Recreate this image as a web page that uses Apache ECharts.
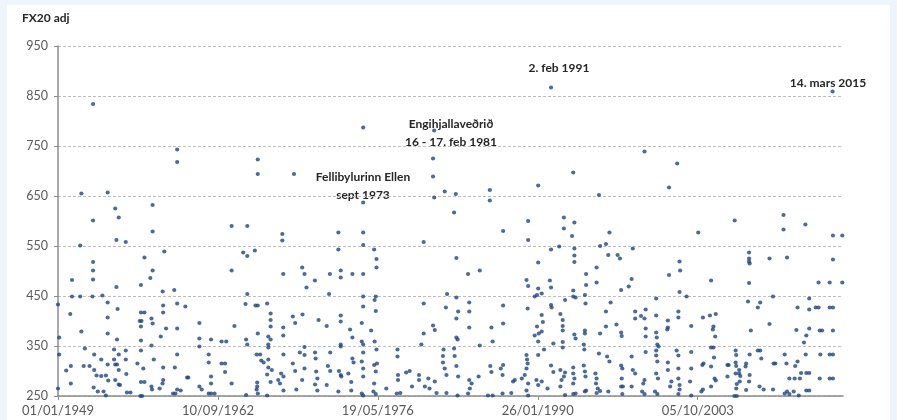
<!DOCTYPE html>
<html>
<head>
<meta charset="utf-8">
<script src="https://cdn.jsdelivr.net/npm/echarts@6/dist/echarts.min.js"></script>
<style>
html,body{margin:0;padding:0;background:#eef5fc;width:897px;height:420px;overflow:hidden;}
#chart{position:absolute;left:7px;top:5px;width:883px;height:415px;background:#ffffff;}
</style>
</head>
<body>
<div id="chart"></div>
<script>
// Data: [decimal year, FX20 adj value]
const gusts1949_1962 = [[1952.0,834],[1959.2,743],[1959.2,718],[1951.0,655],[1953.25,657],[1953.9,625],[1954.2,607],[1952.0,601],[1957.1,632],[1957.1,579],[1954.0,562],[1954.8,558],[1950.9,551],[1958.1,539],[1956.4,527],[1952.0,518],[1952.0,501],[1952.0,483],[1950.2,482],[1957.1,501],[1956.9,486],[1956.1,472],[1954.0,468],[1957.96,459],[1958.95,462],[1950.2,449],[1950.9,449],[1951.95,449],[1952.8,451],[1949.0,433],[1953.25,437],[1958.0,431],[1959.2,435],[1959.9,429],[1954.1,424],[1956.1,417],[1956.4,417],[1950.05,414],[1958.0,417],[1953.25,407],[1956.0,400],[1956.15,400],[1957.0,405],[1956.1,389],[1957.1,395],[1961.1,396],[1951.0,379],[1953.25,375],[1958.25,385],[1959.2,385],[1949.1,367],[1954.05,363],[1956.1,361],[1957.8,369],[1961.1,365],[1962.1,363],[1951.3,345],[1953.8,343],[1954.8,341],[1956.1,341],[1957.0,351],[1961.1,349],[1949.1,333],[1952.1,333],[1954.2,333],[1957.2,323],[1954.8,323],[1959.2,333],[1961.9,333],[1961.9,317],[1952.7,323],[1953.8,323],[1955.8,315],[1950.1,310],[1951.2,310],[1951.7,310],[1953.25,313],[1953.9,313],[1954.05,313],[1956.3,305],[1958.0,307],[1959.0,307],[1949.7,301],[1952.1,302],[1952.3,291],[1952.7,290],[1953.1,291],[1954.2,302],[1954.85,294],[1960.05,287],[1960.15,287],[1953.3,281],[1953.9,282],[1954.2,273],[1954.3,272],[1956.1,278],[1956.4,278],[1958.0,282],[1957.95,275],[1962.1,289],[1962.1,275],[1950.1,275],[1952.05,267],[1952.4,259],[1949.0,265],[1952.9,259],[1957.0,269],[1957.05,263],[1957.7,265],[1959.2,263],[1959.5,261],[1961.1,269],[1961.3,263],[1954.9,257],[1955.2,257],[1953.1,251],[1956.05,250],[1956.2,250],[1958.85,255],[1959.05,255],[1961.9,255],[1962.1,255],[1962.4,255]];

const gusts1962_1976 = [[1975.12,787],[1966.1,723],[1966.1,694],[1969.2,694],[1975.12,637],[1963.86,590],[1965.2,590],[1968.2,574],[1968.2,561],[1973.0,577],[1975.12,577],[1975.12,552],[1973.0,543],[1964.85,537],[1965.2,530],[1965.85,541],[1976.06,543],[1976.26,524],[1976.26,507],[1963.86,501],[1968.28,494],[1969.9,507],[1970.1,494],[1970.99,481],[1970.27,467],[1972.27,494],[1973.2,501],[1973.2,487],[1974.2,494],[1975.12,494],[1972.2,454],[1965.2,454],[1965.05,434],[1965.9,431],[1966.1,431],[1966.9,435],[1975.12,449],[1975.12,429],[1976.2,449],[1976.1,442],[1976.2,420],[1967.2,415],[1967.2,402],[1967.2,389],[1969.1,409],[1969.3,396],[1969.93,413],[1973.2,411],[1973.2,399],[1971.3,402],[1972.0,390],[1975.0,396],[1964.1,390],[1966.1,375],[1967.0,369],[1967.2,363],[1968.28,387],[1968.28,371],[1974.0,383],[1974.2,367],[1975.8,381],[1963.0,359],[1963.4,359],[1965.1,363],[1965.2,353],[1967.0,353],[1967.0,347],[1973.2,353],[1973.2,349],[1975.0,359],[1975.12,353],[1975.12,337],[1976.1,359],[1976.26,343],[1970.1,348],[1966.0,333],[1966.3,333],[1966.4,321],[1966.6,317],[1967.0,323],[1968.3,333],[1969.7,337],[1970.1,332],[1971.0,337],[1971.05,325],[1972.3,337],[1974.2,325],[1974.3,317],[1963.0,315],[1963.3,315],[1963.3,298],[1967.0,307],[1967.3,302],[1968.1,295],[1968.3,289],[1969.1,315],[1969.3,300],[1970.1,305],[1971.1,299],[1971.2,285],[1972.1,310],[1972.3,300],[1973.05,300],[1973.2,292],[1973.25,289],[1973.85,295],[1975.0,319],[1975.12,305],[1975.12,289],[1976.06,312],[1976.2,299],[1963.86,275],[1966.05,277],[1966.05,269],[1966.9,293],[1967.2,278],[1967.85,282],[1968.0,275],[1969.9,282],[1971.0,273],[1972.0,272],[1974.1,278],[1976.06,275],[1965.1,252],[1966.0,263],[1966.1,255],[1966.9,251],[1968.3,261],[1969.4,263],[1971.2,261],[1973.0,259],[1974.1,261],[1975.0,255],[1975.12,251],[1976.0,259],[1976.2,254]];

const gusts1976_1990 = [[1981.2,781],[1981.1,725],[1981.1,689],[1981.2,647],[1982.1,659],[1983.05,654],[1982.9,617],[1985.96,662],[1985.96,641],[1990.1,671],[1989.24,600],[1989.24,562],[1987.1,580],[1980.3,558],[1983.1,526],[1984.1,494],[1985.1,501],[1989.1,482],[1989.24,470],[1990.1,517],[1990.1,465],[1982.3,454],[1983.1,447],[1980.3,435],[1982.2,427],[1983.25,419],[1983.1,405],[1984.2,437],[1984.2,419],[1987.1,431],[1987.1,395],[1989.2,425],[1989.8,449],[1990.0,452],[1984.2,387],[1986.1,387],[1981.1,391],[1981.25,382],[1980.3,375],[1980.1,353],[1983.1,367],[1983.2,363],[1986.2,359],[1985.1,351],[1989.8,371],[1990.1,359],[1978.06,343],[1978.06,329],[1982.0,343],[1981.95,330],[1981.95,317],[1982.9,345],[1982.95,330],[1989.1,332],[1989.15,323],[1989.2,315],[1990.1,332],[1976.3,315],[1978.1,292],[1978.1,282],[1978.8,297],[1979.1,300],[1979.9,292],[1979.9,282],[1980.7,285],[1981.25,279],[1982.1,305],[1982.25,292],[1983.1,310],[1983.25,289],[1984.2,282],[1984.4,275],[1985.0,289],[1986.0,310],[1986.1,298],[1986.9,305],[1987.1,312],[1987.05,292],[1987.95,279],[1988.1,282],[1988.7,285],[1988.95,292],[1989.1,305],[1989.24,275],[1989.95,282],[1990.1,272],[1977.1,265],[1978.0,255],[1978.3,256],[1979.3,269],[1980.4,269],[1980.8,265],[1981.4,256],[1982.25,256],[1983.2,251],[1984.25,265],[1984.1,255],[1985.8,251],[1986.2,251],[1987.05,255],[1987.8,256],[1989.1,261],[1989.24,251]];

const gusts1990_2003 = [[1991.2,867],[1993.1,697],[1999.2,739],[2002.0,715],[2001.3,667],[1995.3,652],[2003.8,577],[1992.3,607],[1992.3,585],[1993.2,597],[1993.0,570],[1996.2,577],[1995.4,550],[1995.9,554],[1991.2,543],[1991.9,549],[1993.2,545],[1993.2,531],[1993.2,518],[1996.1,532],[1996.9,532],[1997.1,525],[1998.2,545],[1995.1,507],[1995.1,477],[1994.2,494],[1994.2,472],[2002.2,519],[2002.25,501],[2001.3,492],[1991.1,481],[1991.2,467],[1997.2,462],[1997.85,469],[1998.1,484],[2002.2,458],[2002.8,449],[1990.4,455],[1992.4,442],[1993.1,461],[1993.1,449],[1993.3,447],[1994.1,452],[1994.15,435],[1991.2,432],[1991.25,427],[1990.4,412],[1992.0,414],[1992.2,402],[1996.3,437],[1995.9,419],[1995.9,389],[1998.4,419],[1998.4,405],[1998.9,410],[1999.2,405],[1999.3,423],[2000.2,445],[2000.2,411],[2001.2,401],[2002.1,419],[2002.1,407],[1996.8,393],[1990.5,398],[1990.0,389],[1990.15,375],[1990.4,379],[1992.2,390],[1992.2,381],[1994.1,381],[1994.1,375],[1993.2,373],[1993.3,365],[1995.4,375],[1997.2,377],[1997.25,370],[1999.3,385],[1999.3,369],[2000.2,377],[2000.25,367],[2001.2,387],[2001.15,383],[2003.2,390],[1991.4,355],[1990.6,343],[1992.2,358],[1992.2,347],[1994.0,353],[1994.05,343],[1995.3,335],[2000.3,353],[2000.4,349],[2000.2,341],[1999.3,338],[2001.95,341],[2002.1,331],[2003.2,338],[1991.2,311],[1991.4,298],[1992.0,302],[1992.4,297],[1992.3,289],[1992.1,282],[1993.1,307],[1993.1,295],[1993.2,285],[1993.1,275],[1994.0,311],[1994.1,299],[1994.15,289],[1995.0,295],[1995.1,285],[1995.05,275],[1995.2,265],[1996.0,329],[1996.2,319],[1997.2,311],[1997.3,305],[1997.25,285],[1997.35,269],[1998.1,329],[1998.2,302],[1998.4,295],[1999.2,282],[1999.1,275],[2000.2,331],[2000.3,319],[2000.2,295],[2000.35,285],[2001.2,317],[2001.2,302],[2001.5,279],[2002.1,305],[2002.1,285],[2002.2,272],[2003.1,279],[2003.2,305],[1990.4,279],[1990.9,265],[1992.0,269],[1992.4,252],[1993.1,254],[1993.3,255],[1994.1,259],[1994.2,261],[1995.1,256],[1995.4,260],[1996.1,259],[1997.2,269],[1997.3,254],[1998.1,269],[1999.0,259],[1999.2,254],[2000.1,259],[2000.3,254],[2001.4,269],[2002.1,254],[2002.2,263],[2003.2,251]];

const gusts2003_2016 = [[2015.3,859],[2006.92,601],[2011.1,612],[2011.1,583],[2012.97,593],[2015.33,571],[2016.13,571],[2008.15,537],[2008.15,525],[2008.15,519],[2008.2,515],[2009.9,525],[2011.4,527],[2015.33,523],[2004.9,481],[2008.15,476],[2014.1,477],[2015.05,477],[2016.13,477],[2008.06,439],[2009.1,437],[2008.9,427],[2010.2,449],[2012.3,427],[2013.3,445],[2013.3,423],[2013.85,427],[2014.1,427],[2015.05,427],[2015.33,427],[2004.2,407],[2004.8,411],[2005.3,414],[2005.1,389],[2005.05,383],[2005.25,369],[2009.9,394],[2008.3,381],[2012.2,382],[2013.3,385],[2013.05,371],[2012.85,357],[2014.2,381],[2014.4,381],[2015.33,381],[2004.9,347],[2005.1,347],[2005.15,327],[2007.0,341],[2007.05,332],[2008.2,333],[2008.9,341],[2009.1,341],[2009.2,325],[2011.2,333],[2012.3,319],[2012.1,310],[2013.0,333],[2014.25,333],[2015.05,333],[2015.33,333],[2004.15,312],[2004.25,315],[2006.3,312],[2006.4,312],[2007.0,317],[2007.05,310],[2007.3,302],[2007.9,315],[2007.85,309],[2008.2,292],[2010.25,315],[2010.4,315],[2011.35,315],[2012.6,296],[2013.05,296],[2013.3,296],[2015.05,285],[2015.33,285],[2014.2,285],[2011.6,285],[2012.05,285],[2012.5,285],[2004.9,309],[2005.2,285],[2005.3,281],[2007.0,295],[2007.3,295],[2007.4,290],[2004.07,259],[2004.2,263],[2004.9,269],[2006.3,289],[2007.1,274],[2007.35,279],[2007.05,265],[2007.1,250],[2006.9,250],[2008.15,279],[2007.9,262],[2009.05,269],[2009.4,263],[2010.2,263],[2011.2,255],[2011.4,259],[2011.6,254],[2011.97,259],[2012.4,251],[2013.05,261],[2013.3,261]];

const yMin = 250, yMax = 950, yStep = 100;
const xMaxYear = 2016.19;
const xStepDays = 5000;
const yAxisTitle = 'FX20 adj';
const annotations = [
  {lines:['2. feb 1991'], x:552, y:54},
  {lines:['14. mars 2015'], x:821, y:69},
  {lines:['Engihjallaveðrið','16 - 17. feb 1981'], x:444, y:110},
  {lines:['Fellibylurinn Ellen','sept 1973'], x:356, y:163}
];

const allGusts = [].concat(gusts1949_1962, gusts1962_1976, gusts1976_1990, gusts1990_2003, gusts2003_2016);
const toDays = y => (y - 1949) * 365.25;
const seriesData = allGusts.map(p => [toDays(p[0]), p[1] - yMin]);

const base = Date.UTC(1949,0,1);
function fmtDate(d){
  const dt = new Date(base + Math.round(d)*86400000);
  const dd = String(dt.getUTCDate()).padStart(2,'0');
  const mm = String(dt.getUTCMonth()+1).padStart(2,'0');
  return dd + '/' + mm + '/' + dt.getUTCFullYear();
}

const chart = echarts.init(document.getElementById('chart'), null, {renderer:'canvas'});
const FONT = 'Lato, "Open Sans", sans-serif';
const graphics = [{
  type:'text', left:15, top:7,
  style:{text:yAxisTitle, font:'bold 12px ' + FONT, fill:'#262626'}
}];
annotations.forEach(a => {
  graphics.push({
    type:'text', x:a.x, y:a.y,
    style:{text:a.lines.join('\n'), font:'bold 12px ' + FONT, fill:'#262626', textAlign:'center', lineHeight:18}
  });
});

chart.setOption({
  animation:false,
  backgroundColor:'#ffffff',
  grid:{left:51, top:41, right:47, bottom:24, containLabel:false},
  xAxis:{
    type:'value', min:0, max:toDays(xMaxYear), interval:xStepDays,
    axisLine:{show:true, lineStyle:{color:'#8c8c8c', width:1.5}},
    axisTick:{show:true, length:4, lineStyle:{color:'#8c8c8c'}},
    splitLine:{show:false},
    axisLabel:{showMaxLabel:false, formatter:v => fmtDate(v), color:'#595959', fontSize:13, fontFamily:FONT, margin:8}
  },
  yAxis:{
    type:'value', min:0, max:yMax - yMin, interval:yStep,
    axisLine:{show:true, lineStyle:{color:'#8c8c8c', width:1.5}},
    axisTick:{show:true, length:4, lineStyle:{color:'#8c8c8c'}},
    splitLine:{show:true, lineStyle:{color:'#bdbdbd', type:[3,2], width:1}},
    axisLabel:{formatter:v => String(v + yMin), color:'#595959', fontSize:12.5, fontFamily:FONT, margin:10}
  },
  graphic:graphics,
  series:[{
    type:'scatter',
    data:seriesData,
    symbol:'circle',
    symbolSize:4.2,
    clip:false,
    itemStyle:{color:'#1f4683'}
  }]
});
</script>
</body>
</html>
